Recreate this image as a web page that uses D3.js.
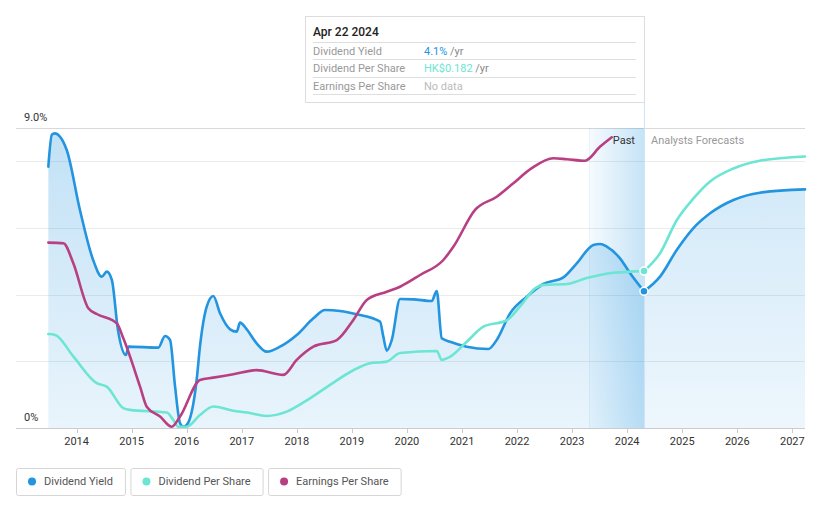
<!DOCTYPE html>
<html><head><meta charset="utf-8">
<script src="https://cdn.jsdelivr.net/npm/d3@7"></script>
<style>
body{margin:0;background:#fff;}
svg{display:block;font-family:Roboto,"Noto Sans",sans-serif;}
</style></head><body>
<svg id="chart" width="821" height="508"></svg>
<script>
// ---- data (decimal years) ----
const yieldYears = [2013.486,2013.55,2013.6,2013.82,2014.06,2014.30,2014.456,2014.547,2014.64,2014.75,2014.897,2014.94,2015.484,2015.606,2015.697,2015.788,2015.879,2015.94,2016.0,2016.18,2016.24,2016.363,2016.483,2016.605,2016.787,2016.908,2016.968,2017.09,2017.27,2017.453,2017.695,2017.998,2018.30,2018.512,2018.785,2019.088,2019.511,2019.571,2019.633,2019.724,2019.875,2020.116,2020.45,2020.541,2020.632,2020.783,2021.086,2021.479,2021.63,2021.873,2022.176,2022.478,2022.841,2023.084,2023.386,2023.51,2023.63,2023.87,2024.054,2024.305];
const yieldValues = [7.84,8.8,8.84,8.34,6.54,5.04,4.54,4.69,4.44,2.95,2.19,2.44,2.41,2.76,2.64,1.24,0.14,0.04,0.09,1.44,2.44,3.64,3.96,3.44,2.96,2.89,3.16,2.96,2.54,2.29,2.44,2.79,3.29,3.54,3.51,3.41,3.19,2.74,2.32,2.64,3.87,3.86,3.81,4.11,2.69,2.59,2.44,2.37,2.64,3.44,3.94,4.32,4.52,4.94,5.49,5.52,5.44,5.09,4.64,4.1];
const yieldForecastYears = [2024.305,2024.597,2024.90,2025.20,2025.506,2025.93,2026.41,2027.23];
const yieldForecastValues = [4.1,4.54,5.34,5.99,6.44,6.84,7.06,7.16];

const dpsYears = [2013.486,2013.61,2013.94,2014.365,2014.547,2014.848,2014.97,2015.637,2015.757,2015.85,2016.0,2016.24,2016.483,2016.846,2017.09,2017.453,2017.817,2018.18,2018.603,2019.026,2019.33,2019.633,2019.875,2020.541,2020.632,2020.783,2021.086,2021.388,2021.813,2022.054,2022.327,2022.478,2022.903,2023.266,2023.51,2023.75,2024.305];
const dpsValues = [0.109,0.108,0.083,0.052,0.048,0.023,0.021,0.018,0.0093,0.0015,0.0015,0.0151,0.025,0.020,0.018,0.014,0.019,0.032,0.050,0.067,0.075,0.077,0.087,0.0893,0.079,0.0826,0.100,0.1175,0.125,0.141,0.162,0.166,0.167,0.174,0.1775,0.180,0.182];
const dpsForecastYears = [2024.305,2024.597,2024.90,2025.20,2025.506,2025.93,2026.41,2027.23];
const dpsForecastValues = [0.182,0.2027,0.241,0.266,0.286,0.301,0.310,0.315];

const epsYears = [2013.486,2013.76,2013.94,2014.213,2014.365,2014.728,2014.848,2015.152,2015.273,2015.515,2015.727,2015.878,2016.24,2016.483,2016.846,2017.27,2017.755,2017.998,2018.30,2018.725,2019.026,2019.27,2019.633,2019.875,2020.238,2020.661,2020.843,2021.237,2021.631,2021.933,2022.267,2022.66,2022.903,2023.235,2023.51,2023.72];
const epsValues = [0.618,0.616,0.549,0.399,0.380,0.349,0.299,0.138,0.071,0.038,0.004,0.038,0.160,0.168,0.179,0.193,0.177,0.227,0.271,0.293,0.360,0.427,0.454,0.471,0.510,0.560,0.604,0.727,0.771,0.816,0.866,0.899,0.896,0.891,0.938,0.969];

const yearTicks = [2014,2015,2016,2017,2018,2019,2020,2021,2022,2023,2024,2025,2026,2027];
const gridValues = [0,2,4,6,8,9];
const yLabels = [{v:9,t:"9.0%"},{v:0,t:"0%"}];
const pastStart = 2023.305, today = 2024.305;
const seriesNames = ["Dividend Yield","Dividend Per Share","Earnings Per Share"];
const seriesColors = ["#2394df","#6ce5d3","#b83f82"];
const tooltipRows = [
  {label:"Dividend Yield", value:"4.1%", unit:" /yr", color:"#2394df"},
  {label:"Dividend Per Share", value:"HK$0.182", unit:" /yr", color:"#6ce5d3"},
  {label:"Earnings Per Share", value:"No data", unit:"", color:"#bbbbbb"}
];
const tooltipTitle = "Apr 22 2024";

// ---- scales ----
const x = d3.scaleLinear().domain([2013.48, 2027.23]).range([48, 805]);
const yY = d3.scaleLinear().domain([0, 9]).range([428, 128]);
const yD = d3.scaleLinear().domain([0, 0.348]).range([428, 128]);
const yE = d3.scaleLinear().domain([0, 1.0]).range([428, 128]);

const svg = d3.select("#chart");
const defs = svg.append("defs");
const ag = defs.append("linearGradient").attr("id","areaGrad").attr("gradientUnits","userSpaceOnUse")
  .attr("x1",0).attr("y1",128).attr("x2",0).attr("y2",428);
ag.append("stop").attr("offset","0").attr("stop-color","#2394df").attr("stop-opacity",0.28);
ag.append("stop").attr("offset","1").attr("stop-color","#2394df").attr("stop-opacity",0.1);
const bg = defs.append("linearGradient").attr("id","bandGrad").attr("x1",0).attr("y1",0).attr("x2",1).attr("y2",0);
bg.append("stop").attr("offset","0").attr("stop-color","#2394df").attr("stop-opacity",0.04);
bg.append("stop").attr("offset","1").attr("stop-color","#2394df").attr("stop-opacity",0.26);

// grid
svg.append("g").selectAll("line").data(gridValues).join("line")
  .attr("x1",16).attr("x2",805)
  .attr("y1",d=>Math.round(yY(d))+0.5).attr("y2",d=>Math.round(yY(d))+0.5)
  .attr("stroke",d=>d===9?"#d9d9d9":(d===0?"#cccccc":"#ebebeb")).attr("stroke-width",1);

// y labels
svg.append("g").selectAll("text").data(yLabels).join("text")
  .attr("x",24).attr("y",d=>yY(d.v)-7).text(d=>d.t)
  .attr("font-size",11).attr("fill","#333");

// past band
svg.append("rect").attr("x",x(pastStart)).attr("y",yY(9)).attr("width",x(today)-x(pastStart)).attr("height",yY(0)-yY(9))
  .attr("fill","url(#bandGrad)");
svg.append("line").attr("x1",Math.round(x(pastStart))+0.5).attr("x2",Math.round(x(pastStart))+0.5).attr("y1",yY(9)).attr("y2",yY(0))
  .attr("stroke","#2394df").attr("stroke-opacity",0.08);

// areas
const past = yieldYears.map((d,i)=>({x:d,v:yieldValues[i]}));
const fut = yieldForecastYears.map((d,i)=>({x:d,v:yieldForecastValues[i]}));
const area = d3.area().x(d=>x(d.x)).y0(yY(0)).y1(d=>yY(d.v)).curve(d3.curveMonotoneX);
svg.append("path").attr("d",area(past)).attr("fill","url(#areaGrad)");
svg.append("path").attr("d",area(fut)).attr("fill","url(#areaGrad)").attr("opacity",0.8);

// x axis ticks
const xa = svg.append("g");
xa.selectAll("line").data(yearTicks).join("line")
  .attr("x1",d=>Math.round(x(d))+0.5).attr("x2",d=>Math.round(x(d))+0.5).attr("y1",428).attr("y2",433)
  .attr("stroke","#cccccc");
xa.selectAll("text").data(yearTicks).join("text")
  .attr("x",d=>x(d)).attr("y",445).attr("text-anchor","middle").text(d=>d)
  .attr("font-size",11).attr("fill","#333");

// today line
svg.append("line").attr("x1",Math.round(x(today))+0.5).attr("x2",Math.round(x(today))+0.5).attr("y1",16).attr("y2",yY(0))
  .attr("stroke","#cfe3f4").attr("stroke-width",1);

// lines
const line = (ys)=>d3.line().x(d=>x(d.x)).y(d=>ys(d.v)).curve(d3.curveMonotoneX);
function drawLine(xs, vs, ys, color){
  const data = xs.map((d,i)=>({x:d,v:vs[i]}));
  svg.append("path").attr("d",line(ys)(data)).attr("fill","none").attr("stroke",color)
    .attr("stroke-width",2.6).attr("stroke-linejoin","round").attr("stroke-linecap","round");
}
drawLine(yieldYears,yieldValues,yY,seriesColors[0]);
drawLine(yieldForecastYears,yieldForecastValues,yY,seriesColors[0]);
drawLine(dpsYears,dpsValues,yD,seriesColors[1]);
drawLine(dpsForecastYears,dpsForecastValues,yD,seriesColors[1]);
drawLine(epsYears,epsValues,yE,seriesColors[2]);

// markers
svg.append("circle").attr("cx",x(today)).attr("cy",yD(dpsValues[dpsValues.length-1])).attr("r",4)
  .attr("fill",seriesColors[1]).attr("stroke","#fff").attr("stroke-width",1.5);
svg.append("circle").attr("cx",x(today)).attr("cy",yY(yieldValues[yieldValues.length-1])).attr("r",4)
  .attr("fill",seriesColors[0]).attr("stroke","#fff").attr("stroke-width",1.5);

// past / forecast labels
svg.append("text").attr("x",x(today)-9).attr("y",144).attr("text-anchor","end").text("Past")
  .attr("font-size",11).attr("fill","#333");
svg.append("text").attr("x",x(today)+7).attr("y",144).text("Analysts Forecasts")
  .attr("font-size",11).attr("fill","#999");

// tooltip
const tt = svg.append("g");
tt.append("rect").attr("x",305.5).attr("y",16.5).attr("width",Math.round(x(today))-305).attr("height",86)
  .attr("fill","#fff").attr("stroke","#dddddd");
tt.append("text").attr("x",313).attr("y",36).text(tooltipTitle).attr("font-size",12).attr("font-weight",500).attr("fill","#222");
[42.5,59.5,77.5,94.5].forEach(yv=>{
  tt.append("line").attr("x1",313).attr("x2",636).attr("y1",yv).attr("y2",yv).attr("stroke","#dedede");
});
tooltipRows.forEach((r,i)=>{
  const yb = [55,72,90][i];
  tt.append("text").attr("x",313).attr("y",yb).text(r.label).attr("font-size",11).attr("fill","#999");
  const t = tt.append("text").attr("x",424).attr("y",yb).attr("font-size",11);
  t.append("tspan").attr("fill",r.color).text(r.value);
  t.append("tspan").attr("fill","#888").text(r.unit);
});

// legend
const lg = svg.append("g");
let lx = 16;
seriesNames.forEach((n,i)=>{
  const g = lg.append("g");
  const txt = g.append("text").attr("x",lx+28).attr("y",485).text(n).attr("font-size",11).attr("fill","#555");
  const w = txt.node().getComputedTextLength();
  const bw = 28 + w + 12;
  g.insert("rect","text").attr("x",lx+0.5).attr("y",468.5).attr("width",bw).attr("height",27).attr("rx",2)
    .attr("fill","#fff").attr("stroke","#d6d6d6");
  g.append("circle").attr("cx",lx+16).attr("cy",481.5).attr("r",4).attr("fill",seriesColors[i]);
  lx += bw + 5.5;
});
</script>
</body></html>
